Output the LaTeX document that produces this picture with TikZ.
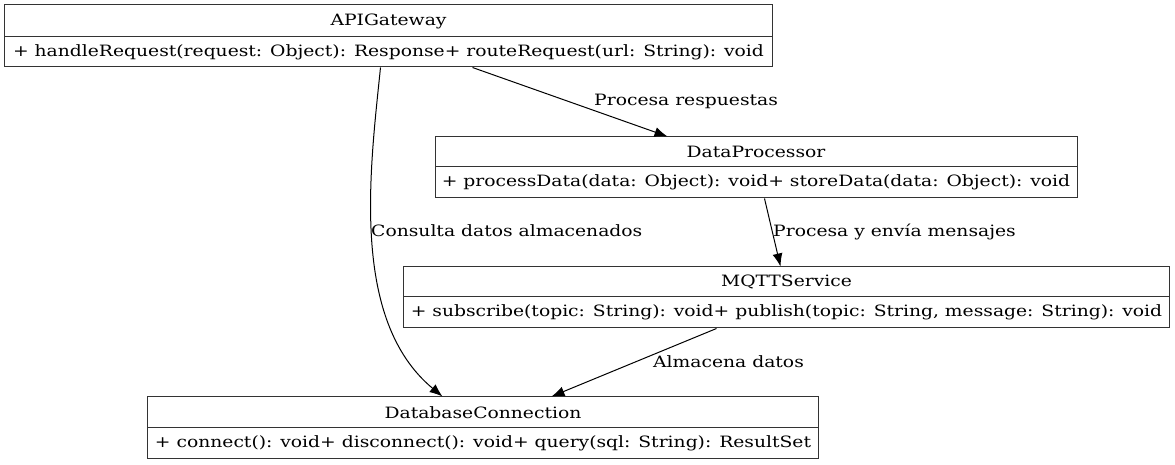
\documentclass[tikz,border=0pt]{standalone}
\usepackage{fontspec}
\setmainfont{DejaVu Serif}[FakeStretch=1.2]
\usetikzlibrary{arrows.meta}
\begin{document}
\begin{tikzpicture}[x=1bp,y=-1bp,
  box/.style={draw=black!80,line width=1bp,rectangle,inner sep=0pt,font=\fontsize{15.6bp}{17bp}\selectfont},
  lbl/.style={anchor=west,inner sep=0pt,font=\fontsize{15.6bp}{17bp}\selectfont},
  edge/.style={line width=1bp,-{Latex[length=13bp,width=10bp]}}]
\useasboundingbox (0,0) rectangle (1175,465);
% APIGateway
\node[box,minimum width=767bp,minimum height=32bp] (apiT) at (388.5,21) {APIGateway};
\node[box,minimum width=767bp,minimum height=30bp] (apiB) at (388.5,52) {+ handleRequest(request: Object): Response+ routeRequest(url: String): void};
% DataProcessor
\node[box,minimum width=642bp,minimum height=30bp] (dpT) at (756,152) {DataProcessor};
\node[box,minimum width=642bp,minimum height=31bp] (dpB) at (756,182.5) {+ processData(data: Object): void+ storeData(data: Object): void};
% MQTTService
\node[box,minimum width=765bp,minimum height=30bp] (mqT) at (786.5,282) {MQTTService};
\node[box,minimum width=765bp,minimum height=31bp] (mqB) at (786.5,312.5) {+ subscribe(topic: String): void+ publish(topic: String, message: String): void};
% DatabaseConnection
\node[box,minimum width=670bp,minimum height=31bp] (dbT) at (483,412.5) {DatabaseConnection};
\node[box,minimum width=670bp,minimum height=31bp] (dbB) at (483,443.5) {+ connect(): void+ disconnect(): void+ query(sql: String): ResultSet};
% edges
\draw[edge] ([xshift=468bp]apiB.south west) -- ([xshift=233bp]dpT.north west);
\draw[edge] ([xshift=376bp]apiB.south west) .. controls (370,170) and (350,320) .. ([xshift=295bp]dbT.north west);
\draw[edge] ([xshift=330bp]dpB.south west) -- ([xshift=377bp]mqT.north west);
\draw[edge] ([xshift=313bp]mqB.south west) -- ([xshift=404bp]dbT.north west);
% labels
\node[lbl] (l1) at (594,101) {Procesa respuestas};
\node[lbl] (l2) at (371,231) {Consulta datos almacenados};
\node[lbl] (l3) at (773,232) {Procesa y envía mensajes};
\node[lbl] (l4) at (653,362) {Almacena datos};
\end{tikzpicture}
\end{document}
